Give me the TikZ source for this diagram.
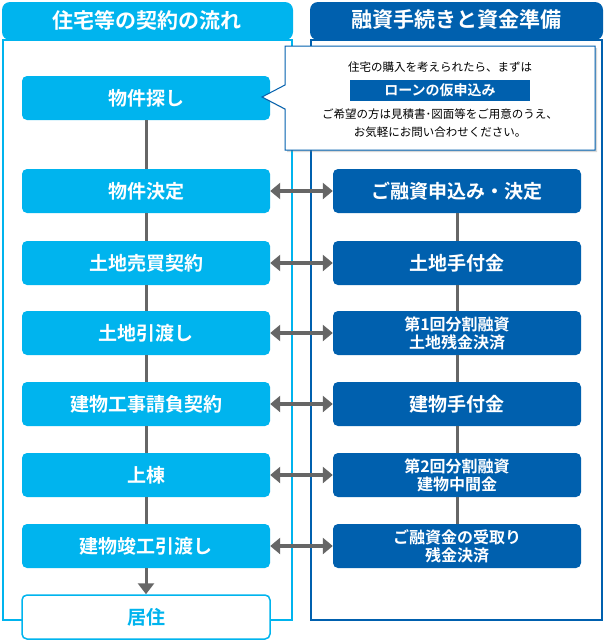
\documentclass[tikz,border=0pt]{standalone}
\usepackage{fontspec}
\setmainfont{Noto Sans CJK JP}
\newfontfamily\jpb{Noto Sans CJK JP Bold}
\usetikzlibrary{arrows.meta,shadows}
\definecolor{cy}{HTML}{00B4EE}
\definecolor{db}{HTML}{0060AE}
\definecolor{gr}{HTML}{666666}
\tikzset{
 lbox/.style={fill=cy,rounded corners=5pt,minimum width=248pt,minimum height=44pt,text=white,font=\jpb\fontsize{19}{21}\selectfont,align=center,inner sep=0pt},
 rbox/.style={fill=db,rounded corners=5pt,minimum width=248pt,minimum height=44pt,text=white,font=\jpb\fontsize{19}{21}\selectfont,align=center,inner sep=0pt},
 rsmall/.style={rbox,font=\jpb\fontsize{16}{18}\selectfont},
 vline/.style={gr,line width=3pt},
 dbl/.style={gr,line width=4pt,{Triangle[length=10pt,width=16pt]}-{Triangle[length=10pt,width=16pt]}},
}
\begin{document}
\begin{tikzpicture}[x=1pt,y=-1pt]
\useasboundingbox (0,0) rectangle (604,640);
% panels
\draw[cy,line width=1.5pt,fill=white] (3,40) rectangle (292,620);
\draw[db,line width=1.5pt,fill=white] (311,40) rectangle (602,620);
\fill[cy,rounded corners=8pt] (2,40) -- (2,2) -- (293,2) -- (293,40) -- cycle;
\fill[db,rounded corners=8pt] (310,40) -- (310,2) -- (603,2) -- (603,40) -- cycle;
\node[text=white,font=\jpb\fontsize{21}{24}\selectfont] (h1) at (147,20) {住宅等の契約の流れ};
\node[text=white,font=\jpb\fontsize{21}{24}\selectfont] (h2) at (456,20) {融資手続きと資金準備};
% left nodes
\node[lbox] (l1) at (146,98) {物件探し};
\node[lbox] (l2) at (146,191) {物件決定};
\node[lbox] (l3) at (146,263) {土地売買契約};
\node[lbox] (l4) at (146,333) {土地引渡し};
\node[lbox] (l5) at (146,404) {建物工事請負契約};
\node[lbox] (l6) at (146,475) {上棟};
\node[lbox] (l7) at (146,546) {建物竣工引渡し};
\node[lbox,fill=white,draw=cy,line width=1.5pt,text=cy] (l8) at (146,617) {居住};
% right nodes
\node[rbox] (r2) at (457,191) {ご融資申込み・決定};
\node[rbox] (r3) at (457,263) {土地手付金};
\node[rsmall] (r4) at (457,333) {第1回分割融資\\土地残金決済};
\node[rbox] (r5) at (457,404) {建物手付金};
\node[rsmall] (r6) at (457,475) {第2回分割融資\\建物中間金};
\node[rsmall] (r7) at (457,546) {ご融資金の受取り\\残金決済};
% lines
\foreach \a/\b in {l1/l2,l2/l3,l3/l4,l4/l5,l5/l6,l6/l7}{\draw[vline] (\a.south) -- (\b.north);}
\draw[vline,-{Triangle[length=11pt,width=16pt]}] (l7.south) -- (l8.north);
\foreach \a/\b in {r2/r3,r3/r4,r4/r5,r5/r6,r6/r7}{\draw[vline] (\a.south) -- (\b.north);}
\foreach \i in {2,...,7}{\draw[dbl] (l\i.east) -- (r\i.west);}
% callout
\coordinate (tip) at (262,97);
\draw[db,line width=1pt,fill=white,drop shadow={opacity=0.3,shadow xshift=2pt,shadow yshift=-2pt}]
 (285,46) -- (595,46) -- (595,150) -- (285,150) -- (285,109) -- (tip) -- (285,85) -- cycle;
\node[font=\fontsize{11.5}{13}\selectfont] (c1) at (440,67) {住宅の購入を考えられたら、まずは};
\node[fill=db,text=white,font=\jpb\fontsize{14}{16}\selectfont,minimum width=180pt,minimum height=21pt,inner sep=0pt] (c2) at (440,90) {ローンの仮申込み};
\node[font=\fontsize{11.5}{13}\selectfont] (c3) at (440,114) {ご希望の方は見積書･図面等をご用意のうえ、};
\node[font=\fontsize{11.5}{13}\selectfont] (c4) at (440,132) {お気軽にお問い合わせください。};
\end{tikzpicture}
\end{document}
